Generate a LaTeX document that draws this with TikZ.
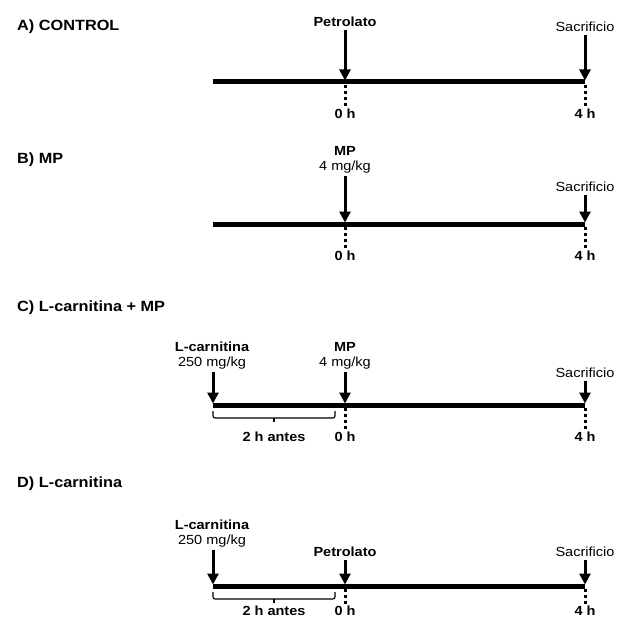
\documentclass[tikz,border=0pt]{standalone}
\usepackage{fontspec}
\setmainfont{Liberation Sans}[FakeStretch=1.1]
\usetikzlibrary{arrows.meta,positioning}
\tikzstyle{timeline} = [line width=5pt]
\tikzstyle{dose} = [draw, line width=3pt, -{Triangle[length=11pt,width=11pt]}, shorten <=2pt, shorten >=1.5pt]
\tikzstyle{hourmark} = [line width=3pt, dash pattern=on 3pt off 3pt, shorten <=3pt, shorten >=1pt]
\tikzstyle{bracket} = [line width=1.1pt, rounded corners=2pt]
\tikzstyle{title} = [anchor=west, inner sep=0pt, font=\bfseries\fontsize{14.8}{16}\selectfont]
\tikzstyle{drug} = [inner sep=1pt, font=\bfseries\fontsize{13.2}{15}\selectfont]
\tikzstyle{dosis} = [inner sep=1pt, font=\fontsize{13.2}{15}\selectfont]
\tikzstyle{hora} = [inner sep=1pt, font=\bfseries\fontsize{13.2}{15}\selectfont]

\begin{document}
\begin{tikzpicture}[x=1pt, y=-1pt]
		\useasboundingbox (0,0) rectangle (624,618);
		% A) Control
		\node [title] (titleA) at (17,27) {A) CONTROL};
		\coordinate (startA) at (213,82);
		\coordinate (zeroA) at (345,82);
		\coordinate (fourA) at (585,82);
		\node [drug] (petA) at (345,22) {Petrolato};
		\node [dosis] (sacA) at (585,27) {Sacrificio};
		\node [hora] (hzeroA) at (345,114) {0 h};
		\node [hora] (hfourA) at (585,114) {4 h};
		\draw [timeline] (startA) -- (fourA);
		\path [dose] (petA) -- (zeroA);
		\path [dose] (sacA) -- (fourA);
		\draw [hourmark] (zeroA) -- (hzeroA.north);
		\draw [hourmark] (fourA) -- (hfourA.north);
		% B) MP
		\node [title] (titleB) at (17,160) {B) MP};
		\coordinate (startB) at (213,224);
		\coordinate (zeroB) at (345,224);
		\coordinate (fourB) at (585,224);
		\node [drug] (mpB) at (345,151) {MP};
		\node [dosis, below=2.5pt of mpB] (doseB) {4 mg/kg};
		\node [dosis] (sacB) at (585,187) {Sacrificio};
		\node [hora] (hzeroB) at (345,256) {0 h};
		\node [hora] (hfourB) at (585,256) {4 h};
		\draw [timeline] (startB) -- (fourB);
		\path [dose] (doseB) -- (zeroB);
		\path [dose] (sacB) -- (fourB);
		\draw [hourmark] (zeroB) -- (hzeroB.north);
		\draw [hourmark] (fourB) -- (hfourB.north);
		% C) L-carnitina + MP
		\node [title] (titleC) at (17,308) {C) L-carnitina + MP};
		\coordinate (startC) at (213,405);
		\coordinate (zeroC) at (345,405);
		\coordinate (fourC) at (585,405);
		\node [drug] (lcarC) at (212,347) {L-carnitina};
		\node [dosis, below=2.5pt of lcarC] (lcdoseC) {250 mg/kg};
		\node [drug] (mpC) at (345,347) {MP};
		\node [dosis, below=2.5pt of mpC] (doseC) {4 mg/kg};
		\node [dosis] (sacC) at (585,373) {Sacrificio};
		\node [hora] (hzeroC) at (345,437) {0 h};
		\node [hora] (hfourC) at (585,437) {4 h};
		\node [hora] (antesC) at (274,437) {2 h antes};
		\draw [timeline] (startC) -- (fourC);
		\path [dose] (lcdoseC.south -| startC) -- (startC);
		\path [dose] (doseC) -- (zeroC);
		\path [dose] (sacC) -- (fourC);
		\draw [hourmark] (zeroC) -- (hzeroC.north);
		\draw [hourmark] (fourC) -- (hfourC.north);
		\draw [bracket] (213,411) -- (213,418) -- (335,418) -- (335,411);
		\draw [bracket] (274,418) -- (274,422);
		% D) L-carnitina
		\node [title] (titleD) at (17,484) {D) L-carnitina};
		\coordinate (startD) at (213,586);
		\coordinate (zeroD) at (345,586);
		\coordinate (fourD) at (585,586);
		\node [drug] (lcarD) at (212,525) {L-carnitina};
		\node [dosis, below=2.5pt of lcarD] (lcdoseD) {250 mg/kg};
		\node [drug] (petD) at (345,552) {Petrolato};
		\node [dosis] (sacD) at (585,552) {Sacrificio};
		\node [hora] (hzeroD) at (345,611) {0 h};
		\node [hora] (hfourD) at (585,611) {4 h};
		\node [hora] (antesD) at (274,611) {2 h antes};
		\draw [timeline] (startD) -- (fourD);
		\path [dose] (lcdoseD.south -| startD) -- (startD);
		\path [dose] (petD) -- (zeroD);
		\path [dose] (sacD) -- (fourD);
		\draw [hourmark] (zeroD) -- (hzeroD.north);
		\draw [hourmark] (fourD) -- (hfourD.north);
		\draw [bracket] (213,592) -- (213,599) -- (335,599) -- (335,592);
		\draw [bracket] (274,599) -- (274,603);
	\end{tikzpicture}
\end{document}
